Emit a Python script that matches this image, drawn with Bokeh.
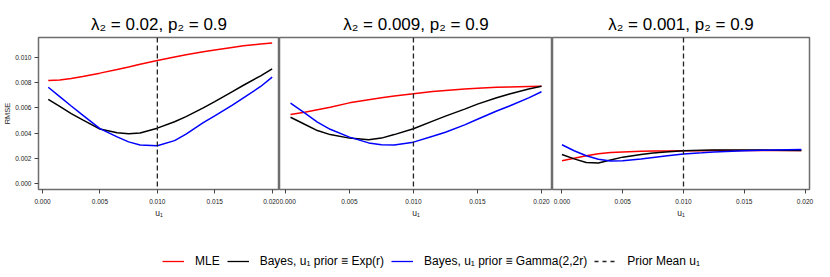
from bokeh.plotting import figure
from bokeh.layouts import row, column
from bokeh.models import (Range1d, FixedTicker, PrintfTickFormatter, Span,
                          Legend, LegendItem)
from bokeh.embed import file_html
from bokeh.resources import INLINE

FONT = "Liberation Sans"

# ---------------- data ----------------
titles = ["λ₂ = 0.02, p₂ = 0.9", "λ₂ = 0.009, p₂ = 0.9", "λ₂ = 0.001, p₂ = 0.9"]
x_ticks = [0.000, 0.005, 0.010, 0.015, 0.020]
y_ticks = [0.000, 0.002, 0.004, 0.006, 0.008, 0.010]
prior_mean_u1 = 0.010
legend_labels = ["MLE", "Bayes, u₁ prior ≡ Exp(r)",
                 "Bayes, u₁ prior ≡ Gamma(2,2r)", "Prior Mean u₁"]

# panel 1: lambda2 = 0.02
u1_p1 = [0.0005, 0.0015, 0.0025, 0.0035, 0.005, 0.0065, 0.0075, 0.0085, 0.010,
         0.0115, 0.0125, 0.014, 0.015, 0.0165, 0.0175, 0.019, 0.020]
mle_p1 = [0.00817, 0.00822, 0.00833, 0.00850, 0.00876, 0.00905, 0.00925, 0.00947, 0.00976,
          0.01005, 0.01022, 0.01045, 0.01060, 0.01080, 0.01093, 0.01108, 0.01116]
exp_p1 = [0.00667, 0.00612, 0.00555, 0.00505, 0.00432, 0.00402, 0.00394, 0.00401, 0.00439,
          0.00490, 0.00531, 0.00600, 0.00650, 0.00728, 0.00780, 0.00855, 0.00910]
gam_p1 = [0.00764, 0.00690, 0.00615, 0.00542, 0.00435, 0.00370, 0.00330, 0.00306, 0.00299,
          0.00340, 0.00392, 0.00483, 0.00537, 0.00620, 0.00680, 0.00770, 0.00844]

# panel 2: lambda2 = 0.009
u1_p2 = [0.0004, 0.0015, 0.0025, 0.0035, 0.005, 0.0065, 0.0075, 0.0085, 0.010,
         0.0115, 0.0125, 0.014, 0.015, 0.0165, 0.0175, 0.019, 0.020]
mle_p2 = [0.00548, 0.00565, 0.00585, 0.00605, 0.00640, 0.00665, 0.00680, 0.00695, 0.00712,
          0.00730, 0.00738, 0.00750, 0.00756, 0.00763, 0.00766, 0.00770, 0.00772]
exp_p2 = [0.00526, 0.00470, 0.00420, 0.00388, 0.00360, 0.00348, 0.00360, 0.00388, 0.00434,
          0.00495, 0.00535, 0.00590, 0.00630, 0.00680, 0.00710, 0.00750, 0.00772]
gam_p2 = [0.00638, 0.00560, 0.00487, 0.00430, 0.00368, 0.00322, 0.00308, 0.00305, 0.00328,
          0.00375, 0.00407, 0.00465, 0.00510, 0.00575, 0.00615, 0.00680, 0.00728]

# panel 3: lambda2 = 0.001
u1_p3 = [0.000, 0.001, 0.002, 0.003, 0.004, 0.005, 0.0065, 0.0075, 0.0085, 0.010,
         0.0115, 0.0125, 0.014, 0.015, 0.0165, 0.0175, 0.0197]
mle_p3 = [0.00180, 0.00200, 0.00220, 0.00235, 0.00245, 0.00250, 0.00255, 0.00257, 0.00258,
          0.00259, 0.00260, 0.00261, 0.00262, 0.00262, 0.00262, 0.00262, 0.00262]
exp_p3 = [0.00230, 0.00195, 0.00167, 0.00163, 0.00186, 0.00209, 0.00230, 0.00241, 0.00250,
          0.00259, 0.00263, 0.00265, 0.00266, 0.00266, 0.00265, 0.00264, 0.00262]
gam_p3 = [0.00307, 0.00260, 0.00220, 0.00192, 0.00178, 0.00180, 0.00195, 0.00207, 0.00218,
          0.00233, 0.00243, 0.00250, 0.00256, 0.00260, 0.00264, 0.00266, 0.00270]

panels = [
    (u1_p1, mle_p1, exp_p1, gam_p1),
    (u1_p2, mle_p2, exp_p2, gam_p2),
    (u1_p3, mle_p3, exp_p3, gam_p3),
]

# ---------------- layout ----------------
x_ranges = [(-0.00035, 0.02064), (-0.00046, 0.02086), (-0.00078, 0.02037)]
y_range = (-0.00048, 0.01159)
frame_w = [241, 273, 257]
frame_h = 152
border_l = [37, 0, 0]
border_r = [0, 0, 20]
TOP = 37
BOTTOM = 32
TOTAL_H = 277
COLORS = ["#ff0000", "#000000", "#0000ff"]
FRAME_COL = "#6e6e6e"
TICK_COL = "#444444"

figs = []
for i, (x, mle, bexp, bgam) in enumerate(panels):
    p = figure(frame_width=frame_w[i], frame_height=frame_h,
               x_range=Range1d(*x_ranges[i]), y_range=Range1d(*y_range),
               output_backend="svg", toolbar_location=None,
               min_border_left=border_l[i], min_border_right=border_r[i],
               min_border_top=TOP, min_border_bottom=BOTTOM,
               y_axis_location="left" if i == 0 else None)
    p.xgrid.visible = False
    p.ygrid.visible = False
    p.outline_line_color = FRAME_COL
    p.outline_line_width = 1.5
    p.background_fill_color = "white"
    p.border_fill_color = "white"

    p.title.text = titles[i]
    p.title.align = "center"
    p.title.text_font = FONT
    p.title.text_font_size = "17px"
    p.title.text_font_style = "normal"
    p.title.text_color = "black"
    p.title.standoff = 7

    for ax in p.xaxis:
        ax.ticker = FixedTicker(ticks=x_ticks)
        ax.formatter = PrintfTickFormatter(format="%.3f")
        ax.axis_line_color = None
        ax.major_tick_line_color = TICK_COL
        ax.major_tick_in = 0
        ax.major_tick_out = 4
        ax.minor_tick_line_color = None
        ax.major_label_text_font = FONT
        ax.major_label_text_font_size = "6.5px"
        ax.major_label_text_color = "#222222"
        ax.major_label_standoff = 5
        ax.axis_label = "u₁"
        ax.axis_label_text_font = FONT
        ax.axis_label_text_font_size = "8.5px"
        ax.axis_label_text_font_style = "normal"
        ax.axis_label_text_color = "#222222"
        ax.axis_label_standoff = 1
    if i == 0:
        for ax in p.yaxis:
            ax.ticker = FixedTicker(ticks=y_ticks)
            ax.formatter = PrintfTickFormatter(format="%.3f")
            ax.axis_line_color = None
            ax.major_tick_line_color = TICK_COL
            ax.major_tick_in = 0
            ax.major_tick_out = 4
            ax.minor_tick_line_color = None
            ax.major_label_text_font = FONT
            ax.major_label_text_font_size = "6.5px"
            ax.major_label_text_color = "#222222"
            ax.major_label_standoff = 3
            ax.axis_label = "RMSE"
            ax.axis_label_text_font = FONT
            ax.axis_label_text_font_size = "7.5px"
            ax.axis_label_text_font_style = "normal"
            ax.axis_label_text_color = "#222222"
            ax.axis_label_standoff = 0

    for ys, c in zip((mle, bexp, bgam), COLORS):
        p.line(x, ys, line_color=c, line_width=1.5)

    p.add_layout(Span(location=prior_mean_u1, dimension="height",
                      line_color="#222222", line_dash="5 3", line_width=1.3))
    figs.append(p)

# ---------------- legend strip ----------------
total_w = sum(frame_w) + sum(border_l) + sum(border_r)
legend_h = TOTAL_H - (TOP + frame_h + BOTTOM)
lf = figure(width=total_w, height=legend_h, x_range=Range1d(0, 1), y_range=Range1d(0, 1),
            output_backend="svg", toolbar_location=None, min_border=0,
            x_axis_location=None, y_axis_location=None)
lf.xgrid.visible = False
lf.ygrid.visible = False
lf.outline_line_color = None

legend_styles = [("#ff0000", "solid"), ("#000000", "solid"),
                 ("#0000ff", "solid"), ("#222222", "4 4")]
items = []
for lab, (c, d) in zip(legend_labels, legend_styles):
    # off-screen placeholder so each legend entry has a glyph to draw
    r = lf.line(x=[-1, -2], y=[-1, -2], line_color=c, line_width=1.3, line_dash=d)
    items.append(LegendItem(label=lab, renderers=[r]))

leg = Legend(items=items, orientation="horizontal", location=(162, 9),
             padding=0, margin=0, spacing=7, label_standoff=11,
             glyph_width=22, glyph_height=12, label_height=12,
             label_text_font=FONT, label_text_font_size="12px",
             label_text_color="black", border_line_color=None,
             background_fill_alpha=0)
lf.add_layout(leg)

layout = column(row(*figs), lf)
open("out.html", "w").write(file_html(layout, INLINE))
